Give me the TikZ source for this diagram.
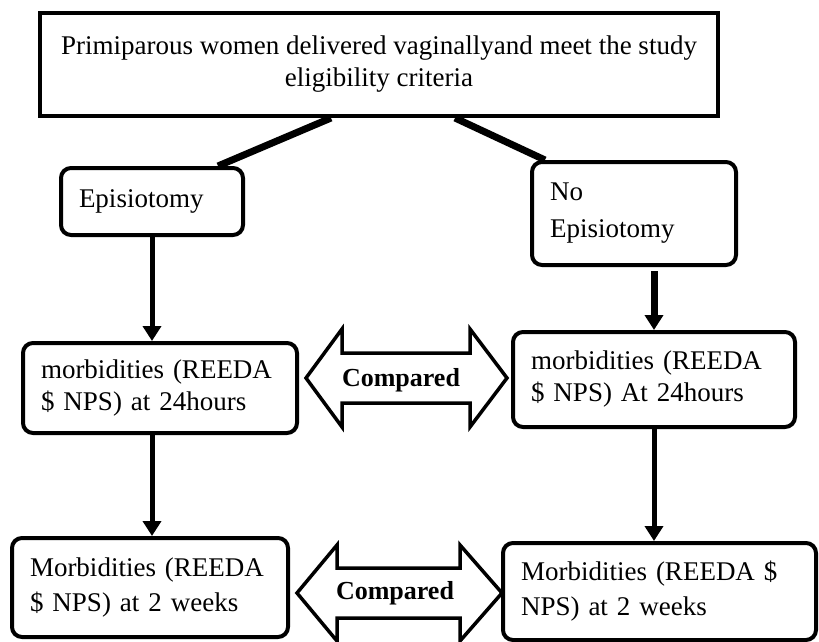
\documentclass[tikz,border=0pt]{standalone}
\usepackage{fontspec}
\setmainfont{Liberation Serif}
\usetikzlibrary{arrows.meta,calc}

\begin{document}
\begin{tikzpicture}[x=1pt,y=-1pt,
    font=\fontsize{27}{32}\selectfont,
    plainbox/.style={draw, line width=4pt, align=center, inner sep=0pt},
    roundbox/.style={draw, line width=4pt, rounded corners=10pt, align=left, inner xsep=18pt, inner ysep=0pt},
    branch/.style={line width=7pt},
    flow/.style={line width=5pt, -{Triangle[width=18pt,length=15pt]}},
    twoway/.style={draw, line width=3.5pt, line join=miter},
    cmplabel/.style={font=\fontsize{26}{30}\selectfont\bfseries}]

\useasboundingbox (0,0) rectangle (819,642);

% Study population
\node[plainbox, minimum width=678pt, minimum height=103pt] (pop) at (379,64.5)
    {Primiparous women delivered vaginallyand meet the study\\eligibility criteria};

% Groups
\node[roundbox, minimum width=182pt, minimum height=67pt, text width=146pt] (epi) at (152,201.5) {Episiotomy};
\node[roundbox, minimum width=204pt, minimum height=103pt, text width=168pt] (noepi) at (634,213.5) {No\\[5pt]Episiotomy};

% Morbidities at 24 hours
\node[roundbox, minimum width=274pt, minimum height=90pt, text width=238pt] (m24l) at (160,388) {morbidities (REEDA\\\$ NPS) at 24hours};
\node[roundbox, minimum width=282pt, minimum height=95pt, text width=246pt] (m24r) at (654,379.5) {morbidities (REEDA\\\$ NPS) At 24hours};

% Morbidities at 2 weeks
\node[roundbox, minimum width=276pt, minimum height=99pt, text width=240pt] (m2wl) at (150,587.5) {Morbidities (REEDA\\[3pt]\$ NPS) at 2 weeks};
\node[roundbox, minimum width=313pt, minimum height=97pt, text width=277pt] (m2wr) at (659.5,591.5) {Morbidities (REEDA \$\\[3pt]NPS) at 2 weeks};

% Branches from the population box
\draw[branch] ($(pop.south west)+(293,0)$) -- ($(epi.north west)+(159,0)$);
\draw[branch] ($(pop.south west)+(417,0)$) -- ($(noepi.north west)+(15,0)$);

% Follow-up arrows
\draw[flow] (epi.south) -- (epi.south |- m24l.north);
\draw[flow] (m24l.south -| epi.south) -- (m2wl.north -| epi.south);
\draw[flow, line width=7pt, shorten <=4pt] (noepi.south -| m24r.north) -- (m24r.north);
\draw[flow] (m24r.south) -- (m24r.south |- m2wr.north);

% Comparison arrows
\draw[twoway] (306,378) -- (342,329) -- (342,353) -- (470,353) -- (470,329) -- (507,378)
    -- (470,427) -- (470,403) -- (342,403) -- (342,427) -- cycle;
\node[cmplabel] (cmp24) at (401,380) {Compared};

\draw[twoway] (297,593) -- (337,545) -- (337,568) -- (460,568) -- (460,545) -- (502,593)
    -- (460,641) -- (460,618) -- (337,618) -- (337,641) -- cycle;
\node[cmplabel] (cmp2w) at (395,593) {Compared};
\end{tikzpicture}
\end{document}
